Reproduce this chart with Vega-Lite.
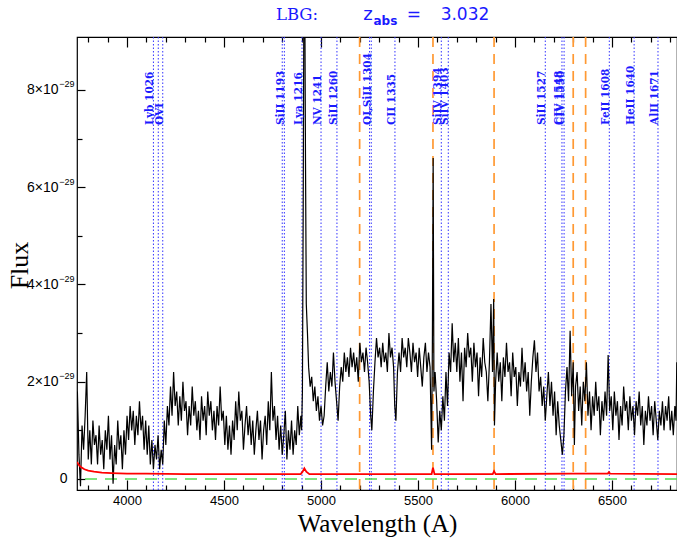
{
"$schema": "https://vega.github.io/schema/vega-lite/v6.json",
"width": 600, "height": 453,
"autosize": {"type": "none"},
"padding": {"left": 77, "top": 37, "right": 0, "bottom": 54},
"background": "white",
"config": {"view": {"stroke": "black", "strokeWidth": 1.2}, "axis": {"grid": false, "domain": false, "tickColor": "black", "tickWidth": 1.2}},
"datasets": {
"spec": [
{"w":3744,"f":1.8},{"w":3752,"f":0.5},{"w":3760,"f":-0.15},{"w":3768,"f":1.1},{"w":3776,"f":0.6},{"w":3784,"f":1.3},{"w":3792,"f":2.2},{"w":3800,"f":0.4},{"w":3808,"f":1.0},{"w":3816,"f":0.3},{"w":3824,"f":1.2},{"w":3832,"f":0.7},{"w":3840,"f":0.9},{"w":3848,"f":0.3},{"w":3856,"f":1.1},{"w":3864,"f":0.5},{"w":3872,"f":0.8},{"w":3880,"f":0.2},{"w":3888,"f":1.0},{"w":3896,"f":0.6},{"w":3904,"f":1.3},{"w":3912,"f":0.4},{"w":3920,"f":0.9},{"w":3928,"f":-0.1},{"w":3936,"f":0.7},{"w":3944,"f":0.3},{"w":3952,"f":1.2},{"w":3960,"f":0.6},{"w":3968,"f":0.9},{"w":3976,"f":0.2},{"w":3984,"f":1.0},{"w":3992,"f":0.5},
{"w":4000,"f":1.3},{"w":4008,"f":0.8},{"w":4016,"f":1.5},{"w":4024,"f":1.0},{"w":4032,"f":1.4},{"w":4040,"f":0.7},{"w":4048,"f":1.3},{"w":4056,"f":0.9},{"w":4064,"f":1.6},{"w":4072,"f":1.0},{"w":4080,"f":1.3},{"w":4088,"f":0.6},{"w":4096,"f":1.2},{"w":4104,"f":0.5},{"w":4112,"f":1.1},{"w":4120,"f":0.3},{"w":4128,"f":0.8},{"w":4136,"f":0.2},{"w":4144,"f":0.7},{"w":4152,"f":0.4},{"w":4160,"f":0.9},{"w":4168,"f":0.2},{"w":4176,"f":0.6},{"w":4184,"f":0.3},{"w":4192,"f":1.2},{"w":4200,"f":0.7},{"w":4208,"f":1.5},{"w":4216,"f":1.1},{"w":4224,"f":1.9},{"w":4232,"f":1.3},{"w":4240,"f":2.2},{"w":4248,"f":1.5},{"w":4256,"f":1.8},{"w":4264,"f":1.1},{"w":4272,"f":1.7},{"w":4280,"f":1.2},{"w":4288,"f":2.0},{"w":4296,"f":1.4},{"w":4304,"f":1.6},{"w":4312,"f":0.9},{"w":4320,"f":1.5},{"w":4328,"f":1.1},{"w":4336,"f":1.9},{"w":4344,"f":1.3},{"w":4352,"f":1.6},{"w":4360,"f":1.0},{"w":4368,"f":1.4},{"w":4376,"f":0.8},{"w":4384,"f":1.7},{"w":4392,"f":1.2},
{"w":4400,"f":1.5},{"w":4408,"f":0.9},{"w":4416,"f":1.8},{"w":4424,"f":1.3},{"w":4432,"f":1.6},{"w":4440,"f":1.0},{"w":4448,"f":1.4},{"w":4456,"f":0.8},{"w":4464,"f":1.5},{"w":4472,"f":1.1},{"w":4480,"f":1.9},{"w":4488,"f":1.2},{"w":4496,"f":1.4},{"w":4504,"f":0.7},{"w":4512,"f":1.3},{"w":4520,"f":0.6},{"w":4528,"f":1.1},{"w":4536,"f":0.5},{"w":4544,"f":1.2},{"w":4552,"f":0.8},{"w":4560,"f":1.6},{"w":4568,"f":1.0},{"w":4576,"f":1.8},{"w":4584,"f":1.2},{"w":4592,"f":1.4},{"w":4600,"f":0.6},{"w":4608,"f":1.1},{"w":4616,"f":1.5},{"w":4624,"f":0.9},{"w":4632,"f":1.3},{"w":4640,"f":0.7},{"w":4648,"f":1.2},{"w":4656,"f":0.5},{"w":4664,"f":1.0},{"w":4672,"f":1.4},{"w":4680,"f":0.8},{"w":4688,"f":1.2},{"w":4696,"f":0.4},{"w":4704,"f":1.0},{"w":4712,"f":1.3},{"w":4720,"f":0.7},{"w":4728,"f":1.6},{"w":4736,"f":1.0},{"w":4744,"f":2.2},{"w":4752,"f":1.2},{"w":4760,"f":1.5},{"w":4768,"f":0.8},{"w":4776,"f":1.3},{"w":4784,"f":0.6},{"w":4792,"f":1.1},
{"w":4800,"f":0.5},{"w":4808,"f":0.9},{"w":4816,"f":1.4},{"w":4824,"f":0.4},{"w":4832,"f":1.0},{"w":4840,"f":0.6},{"w":4848,"f":1.2},{"w":4856,"f":0.5},{"w":4864,"f":1.0},{"w":4872,"f":0.7},{"w":4880,"f":1.5},{"w":4888,"f":0.9},{"w":4896,"f":1.3},{"w":4900,"f":1.0},{"w":4904,"f":1.8},{"w":4908,"f":5.5},{"w":4912,"f":10.5},{"w":4916,"f":10.2},{"w":4920,"f":6.5},{"w":4924,"f":3.6},{"w":4930,"f":3.0},{"w":4936,"f":2.3},{"w":4944,"f":1.9},{"w":4952,"f":2.1},{"w":4960,"f":1.6},{"w":4968,"f":1.9},{"w":4976,"f":1.4},{"w":4984,"f":1.7},{"w":4992,"f":1.2},{"w":5000,"f":1.5},{"w":5008,"f":1.1},{"w":5016,"f":1.3},{"w":5024,"f":1.9},{"w":5032,"f":2.4},{"w":5040,"f":1.8},{"w":5048,"f":2.2},{"w":5056,"f":1.9},{"w":5064,"f":2.6},{"w":5072,"f":2.0},{"w":5080,"f":1.6},{"w":5088,"f":1.2},{"w":5096,"f":1.9},
{"w":5104,"f":2.3},{"w":5112,"f":2.0},{"w":5120,"f":2.6},{"w":5128,"f":2.2},{"w":5136,"f":2.5},{"w":5144,"f":2.1},{"w":5152,"f":2.7},{"w":5160,"f":2.3},{"w":5168,"f":2.6},{"w":5176,"f":2.2},{"w":5184,"f":2.5},{"w":5192,"f":2.0},{"w":5200,"f":2.8},{"w":5208,"f":2.4},{"w":5216,"f":2.6},{"w":5224,"f":2.2},{"w":5232,"f":2.7},{"w":5240,"f":2.4},{"w":5248,"f":2.0},{"w":5256,"f":1.3},{"w":5262,"f":1.0},{"w":5270,"f":1.8},{"w":5278,"f":2.4},{"w":5286,"f":2.9},{"w":5294,"f":2.5},{"w":5302,"f":2.7},{"w":5310,"f":2.3},{"w":5318,"f":2.8},{"w":5326,"f":2.4},{"w":5334,"f":2.6},{"w":5342,"f":2.2},{"w":5350,"f":3.0},{"w":5358,"f":2.5},{"w":5366,"f":2.7},{"w":5374,"f":2.3},{"w":5380,"f":1.5},{"w":5386,"f":1.2},{"w":5394,"f":2.2},
{"w":5402,"f":2.6},{"w":5410,"f":2.2},{"w":5418,"f":2.9},{"w":5426,"f":2.5},{"w":5434,"f":2.7},{"w":5442,"f":2.3},{"w":5450,"f":2.9},{"w":5458,"f":2.6},{"w":5466,"f":2.2},{"w":5474,"f":2.8},{"w":5482,"f":2.4},{"w":5490,"f":2.6},{"w":5498,"f":2.1},{"w":5506,"f":2.7},{"w":5514,"f":2.3},{"w":5522,"f":1.9},{"w":5530,"f":2.5},{"w":5538,"f":2.8},{"w":5546,"f":2.2},{"w":5554,"f":2.6},{"w":5562,"f":2.3},{"w":5570,"f":0.6},{"w":5574,"f":2.8},{"w":5578,"f":6.6},{"w":5582,"f":1.8},{"w":5588,"f":2.2},{"w":5596,"f":1.6},{"w":5604,"f":0.75},{"w":5612,"f":1.4},{"w":5620,"f":1.0},{"w":5628,"f":1.7},{"w":5636,"f":1.2},{"w":5644,"f":2.2},{"w":5652,"f":1.5},{"w":5660,"f":2.6},{"w":5668,"f":2.2},{"w":5676,"f":3.2},{"w":5684,"f":2.4},{"w":5692,"f":2.8},
{"w":5700,"f":2.2},{"w":5708,"f":2.9},{"w":5716,"f":2.0},{"w":5724,"f":2.6},{"w":5732,"f":1.6},{"w":5740,"f":2.7},{"w":5748,"f":2.3},{"w":5756,"f":3.0},{"w":5764,"f":2.5},{"w":5772,"f":2.7},{"w":5780,"f":2.0},{"w":5788,"f":2.8},{"w":5796,"f":2.3},{"w":5804,"f":2.6},{"w":5812,"f":1.7},{"w":5820,"f":2.5},{"w":5828,"f":2.1},{"w":5836,"f":2.9},{"w":5844,"f":2.4},{"w":5852,"f":2.2},{"w":5860,"f":1.6},{"w":5868,"f":2.4},{"w":5876,"f":3.6},{"w":5884,"f":2.2},{"w":5890,"f":3.7},{"w":5894,"f":1.1},{"w":5900,"f":2.0},{"w":5908,"f":2.6},{"w":5916,"f":2.0},{"w":5924,"f":2.4},{"w":5932,"f":1.6},{"w":5940,"f":2.5},{"w":5948,"f":2.1},{"w":5956,"f":2.8},{"w":5964,"f":2.2},{"w":5972,"f":2.4},{"w":5980,"f":1.7},{"w":5988,"f":2.6},{"w":5996,"f":2.1},
{"w":6004,"f":2.3},{"w":6012,"f":1.5},{"w":6020,"f":2.2},{"w":6028,"f":1.9},{"w":6036,"f":2.7},{"w":6044,"f":2.0},{"w":6052,"f":2.4},{"w":6060,"f":1.8},{"w":6068,"f":2.2},{"w":6076,"f":1.3},{"w":6084,"f":2.0},{"w":6092,"f":2.5},{"w":6100,"f":2.85},{"w":6108,"f":2.2},{"w":6116,"f":2.6},{"w":6124,"f":1.8},{"w":6132,"f":2.1},{"w":6140,"f":1.5},{"w":6148,"f":1.9},{"w":6156,"f":1.2},{"w":6164,"f":1.7},{"w":6172,"f":2.2},{"w":6180,"f":1.5},{"w":6188,"f":2.0},{"w":6196,"f":1.3},{"w":6204,"f":1.8},{"w":6212,"f":0.9},{"w":6220,"f":1.6},{"w":6228,"f":1.1},{"w":6236,"f":0.8},{"w":6244,"f":0.5},{"w":6252,"f":0.9},{"w":6260,"f":1.8},{"w":6268,"f":2.3},{"w":6276,"f":1.6},{"w":6284,"f":3.05},{"w":6292,"f":1.7},{"w":6300,"f":2.4},{"w":6306,"f":0.7},{"w":6312,"f":1.9},{"w":6320,"f":2.2},{"w":6328,"f":1.4},{"w":6336,"f":1.9},{"w":6344,"f":1.1},{"w":6352,"f":2.0},{"w":6360,"f":1.6},{"w":6368,"f":2.4},{"w":6376,"f":1.3},{"w":6384,"f":1.8},{"w":6392,"f":1.0},
{"w":6400,"f":1.7},{"w":6408,"f":1.3},{"w":6416,"f":2.0},{"w":6424,"f":1.4},{"w":6432,"f":1.7},{"w":6440,"f":0.9},{"w":6448,"f":1.6},{"w":6456,"f":1.2},{"w":6464,"f":1.8},{"w":6472,"f":1.3},{"w":6480,"f":2.55},{"w":6488,"f":1.4},{"w":6496,"f":1.7},{"w":6504,"f":1.0},{"w":6512,"f":1.8},{"w":6520,"f":1.3},{"w":6528,"f":1.6},{"w":6536,"f":0.8},{"w":6544,"f":1.5},{"w":6552,"f":1.1},{"w":6560,"f":1.9},{"w":6568,"f":1.4},{"w":6576,"f":1.6},{"w":6584,"f":1.0},{"w":6592,"f":1.7},{"w":6600,"f":1.2},{"w":6608,"f":1.5},{"w":6616,"f":0.9},{"w":6624,"f":1.6},{"w":6632,"f":1.3},{"w":6640,"f":1.8},{"w":6648,"f":1.1},{"w":6656,"f":1.5},{"w":6664,"f":0.7},{"w":6672,"f":1.4},{"w":6680,"f":1.1},{"w":6688,"f":1.7},{"w":6696,"f":1.2},{"w":6704,"f":1.5},{"w":6712,"f":0.9},{"w":6720,"f":1.6},{"w":6728,"f":1.2},{"w":6736,"f":0.8},{"w":6744,"f":1.4},{"w":6752,"f":1.1},{"w":6760,"f":1.6},{"w":6768,"f":1.0},{"w":6776,"f":1.5},{"w":6784,"f":1.2},{"w":6792,"f":1.7},{"w":6800,"f":1.0},{"w":6808,"f":1.4},{"w":6816,"f":0.9},{"w":6824,"f":1.5},{"w":6830,"f":1.2},{"w":6834,"f":2.4}
],
"err": [
{"w":3742,"f":0.35},{"w":3750,"f":0.3},{"w":3760,"f":0.25},{"w":3780,"f":0.2},{"w":3800,"f":0.17},{"w":3830,"f":0.15},{"w":3870,"f":0.13},{"w":3920,"f":0.12},{"w":4000,"f":0.11},{"w":4100,"f":0.11},{"w":4300,"f":0.1},{"w":4500,"f":0.1},{"w":4700,"f":0.1},{"w":4895,"f":0.1},{"w":4905,"f":0.15},{"w":4914,"f":0.22},{"w":4924,"f":0.15},{"w":4940,"f":0.1},{"w":5200,"f":0.1},{"w":5570,"f":0.1},{"w":5577,"f":0.23},{"w":5585,"f":0.1},{"w":5885,"f":0.1},{"w":5892,"f":0.16},{"w":5900,"f":0.1},{"w":6300,"f":0.11},{"w":6478,"f":0.11},{"w":6484,"f":0.14},{"w":6490,"f":0.11},{"w":6835,"f":0.1}
],
"lines": [
{"w":4136,"label":"Lyb 1026"},{"w":4161,"label":""},{"w":4184,"label":"OVI"},{"w":4800,"label":""},{"w":4811,"label":"SiII 1193"},{"w":4902,"label":"Lya 1216"},{"w":5000,"label":"NV 1241"},{"w":5082,"label":"SiII 1260"},{"w":5250,"label":""},{"w":5259,"label":"OI,SiII 1304"},{"w":5381,"label":"CII 1335"},{"w":5620,"label":"SiIV 1394"},{"w":5656,"label":"SiIV 1403"},{"w":6156,"label":"SiII 1527"},{"w":6242,"label":"CIV 1548"},{"w":6253,"label":"CIV 1550"},{"w":6486,"label":"FeII 1608"},{"w":6614,"label":"HeII 1640"},{"w":6737,"label":"AlII 1671"}
],
"sky": [{"w":5199},{"w":5577},{"w":5892},{"w":6300},{"w":6364}]
},
"resolve": {"axis": {"x": "independent", "y": "independent"}},
"layer": [
{"data": {"name": "sky"}, "mark": {"type": "rule", "color": "#ff9933", "strokeWidth": 1.7, "strokeDash": [10, 7]},
 "encoding": {"x": {"field": "w", "type": "quantitative", "scale": {"domain": [3742, 6835], "nice": false, "zero": false},
   "axis": {"orient": "top", "values": [3800,3900,4100,4200,4300,4400,4600,4700,4800,4900,5100,5200,5300,5400,5600,5700,5800,5900,6100,6200,6300,6400,6600,6700,6800], "tickSize": -5, "labels": false, "title": null}}}},
{"data": {"name": "lines"}, "mark": {"type": "rule", "color": "#3333ff", "strokeWidth": 1, "strokeDash": [1.5, 2]},
 "encoding": {"x": {"field": "w", "type": "quantitative", "scale": {"domain": [3742, 6835], "nice": false, "zero": false},
   "axis": {"orient": "top", "values": [4000,4500,5000,5500,6000,6500], "tickSize": -10, "labels": false, "title": null}}}},
{"data": {"values": [{"f": 0}]}, "mark": {"type": "rule", "color": "#55dd55", "strokeWidth": 1.6, "strokeDash": [12, 8]},
 "encoding": {"y": {"field": "f", "type": "quantitative", "scale": {"domain": [-0.227, 9.09], "nice": false, "zero": false},
   "axis": {"orient": "left", "values": [0,2,4,6,8], "ticks": false, "labelFont": "Liberation Sans", "labelColor": "black", "labelFlush": false, "labelAlign": "right",
     "labelExpr": "datum.value == 0 ? '0' : '−29'",
     "labelFontSize": {"condition": {"test": "datum.value == 0", "value": 14}, "value": 9},
     "labelPadding": {"condition": {"test": "datum.value == 0", "value": 10}, "value": 3},
     "labelOffset": {"condition": {"test": "datum.value == 0", "value": 0}, "value": -6},
     "title": null}}}},
{"data": {"name": "spec"}, "mark": {"type": "line", "color": "black", "strokeWidth": 1.2, "clip": true},
 "encoding": {
  "x": {"field": "w", "type": "quantitative", "scale": {"domain": [3742, 6835], "nice": false, "zero": false},
   "axis": {"orient": "bottom", "values": [4000,4500,5000,5500,6000,6500], "format": "d", "tickSize": -10, "labelPadding": 14, "labelFont": "Liberation Sans", "labelFontSize": 13, "labelColor": "black", "labelFlush": false,
     "title": "Wavelength (A)", "titleFont": "Liberation Serif", "titleFontSize": 25, "titleFontWeight": "normal", "titleColor": "black", "titleBaseline": "alphabetic", "titleY": 41}},
  "y": {"field": "f", "type": "quantitative", "scale": {"domain": [-0.227, 9.09], "nice": false, "zero": false},
   "axis": {"orient": "left", "values": [0,2,4,6,8], "tickSize": -8, "labelPadding": 27, "labelFont": "Liberation Sans", "labelFontSize": 14, "labelColor": "black", "labelFlush": false,
     "labelExpr": "datum.value == 0 ? '' : datum.value + '×10'",
     "title": "Flux", "titleFont": "Liberation Serif", "titleFontSize": 26, "titleFontWeight": "normal", "titleColor": "black", "titleAngle": 270, "titleAlign": "center", "titleBaseline": "alphabetic", "titleX": -50, "titleY": 228}}
 }},
{"data": {"name": "err"}, "mark": {"type": "line", "color": "#ff0000", "strokeWidth": 1.8, "clip": true},
 "encoding": {
  "x": {"field": "w", "type": "quantitative", "scale": {"domain": [3742, 6835], "nice": false, "zero": false},
   "axis": {"orient": "bottom", "values": [3800,3900,4100,4200,4300,4400,4600,4700,4800,4900,5100,5200,5300,5400,5600,5700,5800,5900,6100,6200,6300,6400,6600,6700,6800], "tickSize": -5, "labels": false, "title": null}},
  "y": {"field": "f", "type": "quantitative", "scale": {"domain": [-0.227, 9.09], "nice": false, "zero": false},
   "axis": {"orient": "left", "values": [1,3,5,7], "tickSize": -5, "labels": false, "title": null}}
 }},
{"data": {"name": "lines"}, "transform": [{"filter": "datum.label != ''"}],
 "mark": {"type": "text", "angle": 270, "align": "left", "baseline": "alphabetic", "font": "DejaVu Serif", "fontSize": 10.5, "fontWeight": "bold", "color": "#1a1aff"},
 "encoding": {"x": {"field": "w", "type": "quantitative", "scale": {"domain": [3742, 6835], "nice": false, "zero": false}, "axis": null},
  "y": {"datum": 7.28, "type": "quantitative", "scale": {"domain": [-0.227, 9.09], "nice": false, "zero": false}, "axis": null},
  "text": {"field": "label"}}},
{"data": {"values": [{}]}, "mark": {"type": "text", "text": "LBG:", "font": "DejaVu Serif", "fontSize": 16.5, "color": "#1a1aff", "align": "center", "baseline": "alphabetic"},
 "encoding": {"x": {"datum": 4876, "type": "quantitative", "axis": null}, "y": {"datum": 9.44, "type": "quantitative", "axis": null}}},
{"data": {"values": [{}]}, "mark": {"type": "text", "text": "z", "font": "DejaVu Sans", "fontSize": 18, "color": "#1a1aff", "align": "center", "baseline": "alphabetic"},
 "encoding": {"x": {"datum": 5242, "type": "quantitative", "axis": null}, "y": {"datum": 9.44, "type": "quantitative", "axis": null}}},
{"data": {"values": [{}]}, "mark": {"type": "text", "text": "abs", "font": "DejaVu Sans", "fontSize": 12, "fontWeight": "bold", "color": "#1a1aff", "align": "center", "baseline": "alphabetic"},
 "encoding": {"x": {"datum": 5332, "type": "quantitative", "axis": null}, "y": {"datum": 9.337, "type": "quantitative", "axis": null}}},
{"data": {"values": [{}]}, "mark": {"type": "text", "text": "=", "font": "DejaVu Sans", "fontSize": 17, "color": "#1a1aff", "align": "center", "baseline": "alphabetic"},
 "encoding": {"x": {"datum": 5479, "type": "quantitative", "axis": null}, "y": {"datum": 9.44, "type": "quantitative", "axis": null}}},
{"data": {"values": [{}]}, "mark": {"type": "text", "text": "3.032", "font": "DejaVu Sans", "fontSize": 17, "color": "#1a1aff", "align": "center", "baseline": "alphabetic"},
 "encoding": {"x": {"datum": 5742, "type": "quantitative", "axis": null}, "y": {"datum": 9.44, "type": "quantitative", "axis": null}}}
]
}
